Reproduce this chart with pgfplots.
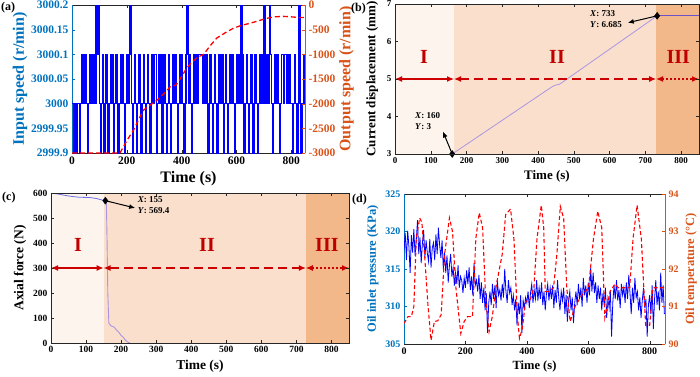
\documentclass[border=0pt]{standalone}
\usepackage{fontspec}
\setmainfont{Liberation Serif}
\usepackage{pgfplots}
\pgfplotsset{compat=1.18}
\usetikzlibrary{arrows.meta}
\definecolor{mblue}{RGB}{0,114,189}
\definecolor{morange}{RGB}{217,83,25}
\definecolor{lblue}{RGB}{0,0,255}
\definecolor{regI}{RGB}{253,244,237}
\definecolor{regII}{RGB}{250,224,204}
\definecolor{regIII}{RGB}{243,184,137}
\definecolor{dred}{RGB}{192,0,0}
\definecolor{ared}{RGB}{204,0,0}
\definecolor{lav}{RGB}{170,150,225}
\definecolor{dpur}{RGB}{110,80,200}
\definecolor{bpur}{RGB}{110,110,235}
\pgfplotsset{
  base/.style={scale only axis, anchor=south west, xmin=0, xmax=850,
    tick align=inside, axis line style={black!85}, tick style={black!85},
    major tick length=3pt,
    /pgf/number format/assume math mode=true, /pgf/number format/1000 sep={},
    clip mode=individual},
}
\tikzset{dh/.style={{Latex[length=7pt,width=6pt]}-{Latex[length=7pt,width=6pt]}},
  tip/.style={-{Latex[length=6pt,width=5pt]}, line width=1pt}}
\begin{document}
\begin{tikzpicture}
\useasboundingbox (0,0) rectangle (700pt,376pt);
% ---------------- (a) ----------------
\begin{axis}[base, at={(72pt,223pt)}, width=233pt, height=148pt,
  ymin=-0.1, ymax=0.2, ytick={-0.1,-0.05,0,0.05,0.1,0.15,0.2},
  yticklabels={2999.9,2999.95,3000,3000.05,3000.1,3000.15,3000.2},
  xtick={0,200,...,800}, axis y line*=left,
  y axis line style={mblue}, ytick style={mblue},
  y tick label style={mblue},
  tick label style={font=\fontsize{11.5}{12}\selectfont\bfseries},
  label style={font=\fontsize{16}{17}\selectfont\bfseries},
  ylabel={Input speed (r/min)}, ylabel style={mblue, yshift=-3pt},
  xlabel={Time (s)}]
% input speed, as deviation from 3000 r/min
\addplot[const plot, lblue, line width=1.4pt, mark=none] table {
x y
0 0
4 0
8 -0.1
12 0
16 -0.1
20 0
24 0
28 -0.1
32 0
36 0.1
40 0.1
44 0
48 0.1
52 0
56 -0.1
60 0
64 0.1
68 0
72 0.1
76 0
80 0.1
84 0
88 0.2
92 0.1
96 0.2
100 0
104 -0.1
108 0
112 0.1
116 -0.1
120 0
124 0.1
128 0
132 -0.1
136 0
140 0.1
144 0
148 0.1
152 -0.1
156 0
160 0.1
164 0
168 -0.1
172 0
176 0.1
180 0
184 0.1
188 0
192 -0.1
196 0
200 0.1
204 0
208 0.1
212 0.2
216 0
220 -0.1
224 0
228 0.1
232 0
236 -0.1
240 0
244 0.1
248 0
252 -0.1
256 0
260 0.1
264 0
268 -0.1
272 0
276 0.1
280 0
284 -0.1
288 0
292 0.1
296 0
300 0.1
304 0.1
308 -0.1
312 0
316 0.1
320 0
324 0.1
328 -0.1
332 0
336 0.1
340 0
344 -0.1
348 0
352 0.1
356 0
360 -0.1
364 0
368 0.1
372 0
376 0.1
380 0
384 -0.1
388 0
392 0.1
396 0
400 0.1
404 0
408 -0.1
412 0
416 0.1
420 0.2
424 0
428 0.1
432 0
436 -0.1
440 0
444 0.1
448 0
452 0.1
456 0
460 0.1
464 0.1
468 0.1
472 0.1
476 0
480 0.1
484 0
488 0.1
492 0
496 -0.1
500 0
504 0.1
508 0
512 -0.1
516 0
520 0.1
524 0
528 -0.1
532 0
536 0.1
540 0.1
544 0
548 0.1
552 -0.1
556 0
560 0.1
564 0
568 -0.1
572 0
576 0.1
580 0
584 0.1
588 0
592 -0.1
596 0
600 0.1
604 0
608 0.1
612 0
616 0.2
620 0.1
624 0
628 -0.1
632 0
636 0.1
640 0
644 -0.1
648 0
652 0.1
656 0
660 -0.1
664 0
668 0.1
672 0
676 -0.1
680 0
684 0.1
688 0
692 0.1
696 0
700 0.2
704 0.1
708 0
712 0.1
716 0
720 0.2
724 0.1
728 0
732 -0.1
736 0
740 0.1
744 0
748 0.1
752 0
756 -0.1
760 0
764 0.1
768 0.1
772 0
776 0.1
780 0.1
784 0
788 0.1
792 0.1
796 0
800 0
804 -0.1
808 0
812 0.1
816 0
820 -0.1
824 0
828 0.2
832 0
836 -0.1
840 0
844 0.1
848 0
850 0
};
\end{axis}
\begin{axis}[base, at={(72pt,223pt)}, width=233pt, height=148pt,
  ymin=-3000, ymax=0, ytick={-3000,-2500,...,0},
  axis x line=none, axis y line*=right,
  y axis line style={morange}, ytick style={morange},
  y tick label style={morange},
  tick label style={font=\fontsize{11.5}{12}\selectfont\bfseries},
  label style={font=\fontsize{16}{17}\selectfont\bfseries},
  ylabel={Output speed (r/min)}, ylabel style={morange, yshift=3pt}]
\addplot[red, line width=1.3pt, dash pattern=on 5pt off 3pt, mark=none] coordinates {
(0,-3000)(175,-3000)(200,-2750)(225,-2530)(245,-2300)(261,-2130)(285,-2030)
(310,-1930)(335,-1800)(358,-1660)(380,-1620)(400,-1450)(419,-1270)(440,-1150)
(455,-1070)(480,-1000)(505,-820)(528,-670)(560,-560)(589,-470)(620,-410)
(650,-370)(680,-320)(710,-270)(740,-240)(771,-230)(800,-240)(830,-255)(850,-255)};
\end{axis}
% ---------------- (b) ----------------
\begin{axis}[base, at={(395pt,222pt)}, width=304pt, height=150pt,
  ymin=3, ymax=7, ytick={3,4,...,7}, xtick={0,100,...,800}, axis on top,
  tick label style={font=\fontsize{9}{10}\selectfont\bfseries},
  label style={font=\fontsize{13}{14}\selectfont\bfseries},
  ylabel={Current displacement (mm)}, ylabel style={yshift=2pt}, xlabel={Time (s)}]
\addplot[fill=regI, draw=none, mark=none, forget plot] coordinates {(0,3)(165,3)(165,7)(0,7)};
\addplot[fill=regII, draw=none, mark=none, forget plot] coordinates {(165,3)(730,3)(730,7)(165,7)};
\addplot[fill=regIII, draw=none, mark=none, forget plot] coordinates {(730,3)(850,3)(850,7)(730,7)};
\addplot[lblue, line width=0.8pt, mark=none] coordinates {(0,3)(160,3)};
\addplot[lav, line width=0.8pt, mark=none] coordinates {(160,3)(440,4.80)(450,4.84)(460,4.86)(733,6.685)};
\addplot[dpur, line width=0.8pt, mark=none] coordinates {(733,6.685)(850,6.685)};
\addplot[only marks, mark=diamond*, mark size=3.5pt, black] coordinates {(160,3)(733,6.685)};
\draw[ared, line width=1.2pt, dh] (axis cs:0,5) -- (axis cs:165,5);
\draw[ared, line width=1.2pt, dh, dash pattern=on 9pt off 5pt] (axis cs:165,5) -- (axis cs:730,5);
\draw[ared, line width=1.2pt, dh, dash pattern=on 2pt off 2pt] (axis cs:730,5) -- (axis cs:850,5);
\node[dred, font=\fontsize{20}{20}\selectfont\bfseries] at (axis cs:81,5.6) {I};
\node[dred, font=\fontsize{20}{20}\selectfont\bfseries] at (axis cs:453,5.6) {II};
\node[dred, font=\fontsize{20}{20}\selectfont\bfseries] at (axis cs:792,5.6) {III};
\draw[tip] (axis cs:160,3) -- (axis cs:134,3.6);
\draw[tip] (axis cs:733,6.685) -- (axis cs:651,6.5);
\node[anchor=north west, align=left, inner sep=0pt, font=\fontsize{9}{11}\selectfont\bfseries] at (axis cs:56,4.12) {\textit{X}: 160\\\textit{Y}: 3};
\node[anchor=north west, align=left, inner sep=0pt, font=\fontsize{9}{11}\selectfont\bfseries] at (axis cs:545,6.82) {\textit{X}: 733\\\textit{Y}: 6.685};
\end{axis}
% ---------------- (c) ----------------
\begin{axis}[base, at={(51pt,33pt)}, width=298pt, height=150pt,
  ymin=0, ymax=600, ytick={0,100,...,600}, xtick={0,100,...,800}, axis on top,
  tick label style={font=\fontsize{9.5}{10}\selectfont\bfseries},
  label style={font=\fontsize{13.5}{14}\selectfont\bfseries},
  ylabel={Axial force (N)}, xlabel={Time (s)}]
\addplot[fill=regI, draw=none, mark=none, forget plot] coordinates {(0,0)(150,0)(150,600)(0,600)};
\addplot[fill=regII, draw=none, mark=none, forget plot] coordinates {(150,0)(727,0)(727,600)(150,600)};
\addplot[fill=regIII, draw=none, mark=none, forget plot] coordinates {(727,0)(850,0)(850,600)(727,600)};
\addplot[bpur, line width=0.8pt, mark=none] coordinates {
(0,600)(20,596)(50,588)(80,583)(110,582)(130,578)(150,570)(155,569.4)};
\addplot[lav, line width=0.9pt, mark=none] coordinates {
(155,569.4)(158,560)(160,400)(162,200)(165,80)(170,70)(175,66)(180,64)(185,55)
(190,48)(195,40)(200,30)(205,25)(210,15)(215,8)(220,3)(225,0)};
\addplot[lblue, line width=0.9pt, mark=none] coordinates {(225,0)(850,0)};
\addplot[only marks, mark=diamond*, mark size=3.5pt, black] coordinates {(155,569.4)};
\draw[ared, line width=1.2pt, dh] (axis cs:0,300) -- (axis cs:150,300);
\draw[ared, line width=1.2pt, dh, dash pattern=on 9pt off 5pt] (axis cs:150,300) -- (axis cs:727,300);
\draw[ared, line width=1.2pt, dh, dash pattern=on 2pt off 2pt] (axis cs:727,300) -- (axis cs:850,300);
\node[dred, font=\fontsize{20}{20}\selectfont\bfseries] at (axis cs:77,392) {I};
\node[dred, font=\fontsize{20}{20}\selectfont\bfseries] at (axis cs:445,392) {II};
\node[dred, font=\fontsize{20}{20}\selectfont\bfseries] at (axis cs:787,392) {III};
\draw[tip] (axis cs:155,569.4) -- (axis cs:240,540);
\node[anchor=north west, align=left, inner sep=0pt, font=\fontsize{9}{11}\selectfont\bfseries] at (axis cs:247,585) {\textit{X}: 155\\\textit{Y}: 569.4};
\end{axis}
% ---------------- (d) ----------------
\begin{axis}[base, at={(404pt,32pt)}, width=261pt, height=150pt,
  ymin=305, ymax=325, ytick={305,310,...,325}, xtick={0,200,...,800},
  axis y line*=left,
  y axis line style={mblue}, ytick style={mblue}, y tick label style={mblue},
  tick label style={font=\fontsize{10}{11}\selectfont\bfseries},
  label style={font=\fontsize{12.5}{13}\selectfont\bfseries},
  ylabel={Oil inlet pressure (KPa)}, ylabel style={mblue}, xlabel={Time (s)}]
\addplot[lblue, line width=0.8pt, mark=none] table {
x y
0 317.5
4 319.8
8 316.2
12 320.1
16 318.0
20 314.5
24 319.5
28 317.2
32 320.3
36 316.8
40 318.9
44 321.5
48 317.0
52 319.2
56 315.8
60 318.5
64 320.2
68 316.5
72 318.8
76 317.1
80 316.0
84 319.0
88 315.2
92 317.8
96 318.5
100 316.2
104 319.6
108 317.0
112 320.5
116 318.2
120 316.5
124 318.8
128 315.0
132 317.2
136 314.5
140 316.8
144 313.2
148 315.5
152 317.0
156 314.0
160 315.2
164 312.8
168 314.5
172 313.0
176 315.5
180 312.5
184 314.0
188 313.5
192 311.8
196 313.8
200 312.5
204 314.8
208 313.0
212 315.2
216 312.2
220 314.0
224 311.5
228 315.8
232 312.8
236 313.5
240 312.0
244 314.2
248 311.0
252 313.2
256 310.5
260 312.5
264 309.5
268 311.8
272 306.5
276 310.5
280 312.0
284 310.2
288 313.0
292 311.0
296 312.8
300 309.8
304 313.5
308 311.5
312 312.2
316 310.8
320 313.0
324 311.2
328 315.0
332 312.0
336 310.5
340 313.5
344 311.8
348 312.5
352 310.2
356 311.5
360 309.5
364 311.0
368 307.5
372 310.5
376 309.0
380 311.5
384 306.5
388 310.8
392 309.8
396 311.2
400 310.5
404 312.0
408 309.8
412 311.8
416 313.0
420 310.5
424 312.2
428 311.0
432 313.5
436 310.8
440 312.5
444 311.0
448 313.2
452 310.2
456 312.0
460 309.5
464 311.8
468 313.0
472 310.8
476 312.5
480 311.0
484 312.8
488 309.8
492 312.2
496 310.5
500 313.5
504 311.2
508 309.5
512 312.0
516 310.8
520 312.5
524 309.0
528 311.5
532 308.0
536 310.8
540 312.0
544 309.5
548 311.2
552 307.8
556 310.5
560 312.0
564 310.2
568 313.0
572 311.0
576 312.5
580 310.0
584 313.8
588 311.5
592 312.8
596 310.5
600 313.2
604 311.5
608 315.2
612 312.0
616 314.5
620 311.8
624 313.2
628 310.5
632 312.8
636 311.0
640 312.5
644 309.5
648 311.8
652 310.2
656 312.5
660 308.5
664 311.0
668 309.8
672 312.0
676 306.0
680 310.5
684 312.8
688 311.0
692 313.5
696 310.8
700 312.2
704 309.8
708 313.0
712 311.5
716 312.5
720 310.5
724 313.2
728 311.0
732 314.2
736 311.8
740 309.0
744 312.5
748 310.5
752 313.8
756 311.2
760 312.0
764 309.5
768 311.2
772 308.5
776 310.8
780 312.5
784 309.8
788 311.0
792 306.0
796 310.2
800 311.5
804 309.0
808 312.8
812 307.0
816 311.0
820 313.5
824 310.2
828 312.0
832 309.5
836 314.5
840 310.5
844 312.8
848 309.0
};
\end{axis}
\begin{axis}[base, at={(404pt,32pt)}, width=261pt, height=150pt,
  ymin=90, ymax=94, ytick={90,91,...,94},
  axis x line=none, axis y line*=right,
  y axis line style={morange}, ytick style={morange}, y tick label style={morange},
  tick label style={font=\fontsize{10}{11}\selectfont\bfseries},
  label style={font=\fontsize{12.5}{13}\selectfont\bfseries},
  ylabel={Oil temperature (°C)}, ylabel style={morange}]
\addplot[red, line width=1.1pt, dash pattern=on 4pt off 2.5pt, mark=none] coordinates {
(0,90.55)(13,90.73)(24,90.73)(32,91.0)(40,92.82)(51,93.36)(58,93.25)(67,92.38)
(78,91.04)(88,90.1)(99,90.6)(110,90.62)(121,90.78)(132,92.38)(148,93.36)(158,93.0)
(169,91.5)(185,90.28)(196,90.6)(207,90.73)(223,90.73)(234,92.82)(245,93.5)(256,93.1)
(266,91.2)(277,90.33)(288,90.75)(299,91.5)(320,92.4)(331,93.45)(347,93.6)(358,92.8)
(369,90.78)(376,90.15)(385,90.4)(396,91.13)(412,91.2)(423,91.5)(433,92.8)(447,93.7)
(455,93.1)(460,91.4)(471,91.4)(487,91.5)(498,92.4)(509,93.67)(520,93.35)(530,91.5)
(541,90.6)(557,91.0)(579,91.3)(601,91.5)(617,92.8)(631,93.54)(644,93.1)(654,90.7)
(671,91.4)(687,91.6)(698,91.5)(719,91.5)(735,91.5)(746,92.82)(759,93.7)(773,92.8)
(787,90.5)(800,90.5)(811,91.5)(850,91.5)};
\end{axis}
% panel labels
\node[anchor=north west, inner sep=0pt, font=\fontsize{12}{12}\selectfont\bfseries] at (1pt,374pt) {(a)};
\node[anchor=north west, inner sep=0pt, font=\fontsize{12}{12}\selectfont\bfseries] at (351pt,373pt) {(b)};
\node[anchor=north west, inner sep=0pt, font=\fontsize{12}{12}\selectfont\bfseries] at (2pt,184pt) {(c)};
\node[anchor=north west, inner sep=0pt, font=\fontsize{12}{12}\selectfont\bfseries] at (352pt,182pt) {(d)};
\end{tikzpicture}
\end{document}
